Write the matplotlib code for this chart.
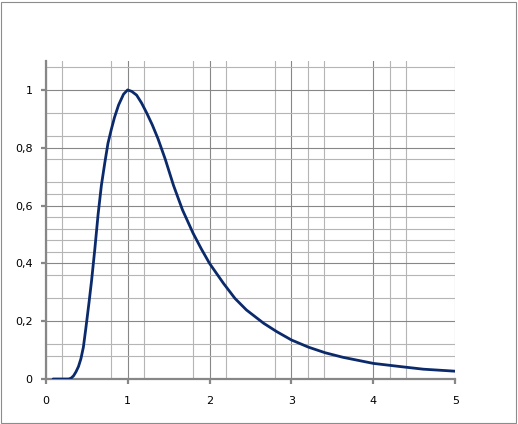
import matplotlib
matplotlib.use("Agg")
import matplotlib.pyplot as plt
from matplotlib.patches import Rectangle
from matplotlib.ticker import FuncFormatter

# curve
x = [0.09, 0.28, 0.31, 0.34, 0.37, 0.40, 0.43, 0.46, 0.49, 0.53, 0.56, 0.60, 0.64,
     0.68, 0.72, 0.76, 0.80, 0.84, 0.89, 0.95, 1.0, 1.05, 1.11, 1.17, 1.23,
     1.30, 1.37, 1.46, 1.56, 1.67, 1.80, 1.90, 2.0, 2.17, 2.31, 2.45, 2.66, 2.82,
     3.0, 3.21, 3.41, 3.63, 4.0, 4.33, 4.61, 5.0]
y = [0.0, 0.0, 0.003, 0.011, 0.025, 0.043, 0.07, 0.11, 0.175, 0.267, 0.34, 0.45, 0.57,
     0.67, 0.745, 0.815, 0.862, 0.905, 0.948, 0.985, 1.0, 0.995, 0.982, 0.955, 0.922,
     0.88, 0.832, 0.76, 0.67, 0.585, 0.504, 0.45, 0.40, 0.331, 0.279, 0.239, 0.193, 0.164,
     0.135, 0.110, 0.091, 0.075, 0.054, 0.043, 0.034, 0.027]

x_major = [0, 1, 2, 3, 4, 5]
y_major = [0, 0.2, 0.4, 0.6, 0.8, 1.0]
x_minor = [0.2, 0.8, 1.2, 1.8, 2.2, 2.8, 3.2, 3.4, 4.2, 4.4]
y_minor = [0.08, 0.12, 0.28, 0.36, 0.44, 0.48, 0.52, 0.56, 0.64, 0.68, 0.76, 0.84, 0.92, 1.08]

fig = plt.figure(figsize=(5.18, 4.24), dpi=100)
ax = fig.add_axes([0.0882, 0.1061, 0.7907, 0.75])

ax.plot(x, y, color="#0b2a6b", lw=2.0, solid_joinstyle="round", solid_capstyle="round", zorder=3)

ax.set_xlim(0, 5)
ax.set_ylim(0, 1.1)
ax.set_xticks(x_major)
ax.set_yticks(y_major)
ax.set_xticks(x_minor, minor=True)
ax.set_yticks(y_minor, minor=True)
fmt = FuncFormatter(lambda v, p: ("%g" % v).replace(".", ","))
ax.xaxis.set_major_formatter(fmt)
ax.yaxis.set_major_formatter(fmt)

ax.grid(which="major", color="#878787", lw=0.8)
ax.grid(which="minor", color="#b5b5b5", lw=0.8)
ax.set_axisbelow(True)

for s in ["top", "right"]:
    ax.spines[s].set_visible(False)
for s in ["left", "bottom"]:
    ax.spines[s].set_color("#878787")
    ax.spines[s].set_linewidth(1.6)

ax.tick_params(which="major", direction="out", length=3.5, width=1.6, color="#878787",
               labelsize=8, labelcolor="#000000")
ax.tick_params(axis="y", which="major", pad=6)
ax.tick_params(axis="x", which="major", pad=9)
ax.tick_params(which="minor", length=0)

fig.add_artist(Rectangle((0.002, 0.003), 0.994, 0.993, transform=fig.transFigure,
                         fill=False, ec="#8c8c8c", lw=0.8))

fig.savefig("out.png", dpi=100)
